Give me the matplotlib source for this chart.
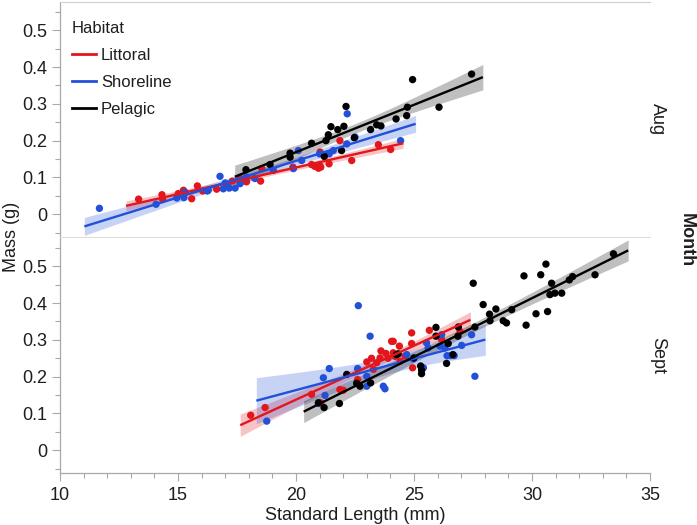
import numpy as np
import matplotlib
matplotlib.use("Agg")
import matplotlib.pyplot as plt
from matplotlib.ticker import MultipleLocator, FixedLocator
from matplotlib.lines import Line2D

plt.rcParams['font.family'] = ['Liberation Sans', 'DejaVu Sans']

habitats = ["Littoral", "Shoreline", "Pelagic"]
months = ["Aug", "Sept"]
habitat_colors = ["#e3161c", "#2250d9", "#000000"]

# ---- August ----
aug_littoral_len = [13.33, 14.32, 14.35, 15.01, 15.23, 15.58, 15.82, 16.05, 16.64, 17.30, 17.63,
                    17.90, 18.50, 18.55, 19.87, 20.66, 20.80, 20.95, 21.00, 21.05, 21.02, 21.40,
                    21.86, 22.36, 23.49, 24.01]
aug_littoral_mass = [0.041, 0.053, 0.040, 0.056, 0.065, 0.042, 0.077, 0.063, 0.068, 0.090, 0.098,
                     0.088, 0.090, 0.124, 0.128, 0.135, 0.130, 0.125, 0.133, 0.128, 0.169, 0.137,
                     0.200, 0.146, 0.189, 0.176]

aug_shoreline_len = [11.67, 14.07, 14.95, 15.25, 15.30, 16.24, 16.28, 16.78, 16.92, 17.00, 17.13,
                     17.17, 17.42, 17.63, 17.90, 18.26, 19.04, 19.89, 20.10, 20.24, 21.00, 21.41,
                     21.58, 22.15, 22.17, 22.50, 24.43]
aug_shoreline_mass = [0.016, 0.027, 0.044, 0.045, 0.060, 0.063, 0.065, 0.103, 0.069, 0.085, 0.074,
                      0.071, 0.071, 0.083, 0.101, 0.097, 0.119, 0.124, 0.173, 0.146, 0.164, 0.164,
                      0.173, 0.191, 0.273, 0.210, 0.200]

aug_pelagic_len = [17.88, 18.90, 19.75, 19.75, 20.66, 21.20, 21.27, 21.37, 21.48, 21.77, 21.93,
                   22.03, 22.12, 22.47, 23.16, 23.42, 23.60, 24.24, 24.69, 24.72, 24.94, 26.06,
                   27.44]
aug_pelagic_mass = [0.121, 0.135, 0.166, 0.155, 0.193, 0.157, 0.200, 0.216, 0.238, 0.230, 0.173,
                    0.239, 0.293, 0.208, 0.230, 0.243, 0.240, 0.259, 0.268, 0.291, 0.366, 0.291,
                    0.381]

# ---- September ----
sept_littoral_len = [18.08, 18.69, 20.66, 21.05, 21.86, 22.00, 22.61, 23.28, 23.42, 23.56, 23.81,
                     24.05, 24.12, 24.12, 24.38, 24.41, 24.62, 24.90, 24.90, 24.94, 25.65, 26.17,
                     26.95, 23.00, 23.20, 23.60, 23.90, 24.20]
sept_littoral_mass = [0.095, 0.116, 0.152, 0.129, 0.165, 0.163, 0.192, 0.220, 0.238, 0.251, 0.263,
                      0.296, 0.296, 0.265, 0.283, 0.242, 0.256, 0.319, 0.290, 0.224, 0.326, 0.301,
                      0.323, 0.240, 0.250, 0.270, 0.250, 0.255]

sept_shoreline_len = [18.76, 20.95, 21.16, 21.23, 21.41, 22.61, 22.64, 23.00, 23.00, 23.14, 23.70,
                      23.77, 24.69, 24.97, 25.40, 25.53, 25.60, 26.10, 26.17, 26.31, 26.40, 26.55,
                      26.70, 27.02, 27.44, 27.58]
sept_shoreline_mass = [0.079, 0.127, 0.197, 0.149, 0.222, 0.222, 0.393, 0.201, 0.174, 0.310, 0.174,
                       0.167, 0.260, 0.248, 0.224, 0.292, 0.278, 0.283, 0.314, 0.278, 0.257, 0.257,
                       0.257, 0.285, 0.314, 0.201]

sept_pelagic_len = [20.95, 21.19, 21.84, 22.15, 22.57, 22.71, 23.16, 24.26, 24.33, 25.00, 25.28,
                    25.32, 25.32, 25.93, 25.93, 26.38, 26.45, 26.65, 26.86, 26.88, 27.51, 27.58,
                    27.93, 28.20, 28.47, 28.22, 28.78, 28.92, 29.14, 29.66, 29.75, 30.17, 30.37,
                    30.59, 30.66, 30.76, 30.83, 30.97, 31.26, 31.58, 31.72, 32.67, 33.45]
sept_pelagic_mass = [0.129, 0.116, 0.127, 0.206, 0.182, 0.174, 0.183, 0.260, 0.262, 0.251, 0.229,
                     0.218, 0.208, 0.334, 0.310, 0.236, 0.290, 0.260, 0.310, 0.335, 0.454, 0.335,
                     0.396, 0.370, 0.384, 0.352, 0.352, 0.346, 0.382, 0.474, 0.340, 0.371, 0.477,
                     0.506, 0.377, 0.423, 0.454, 0.427, 0.427, 0.463, 0.472, 0.477, 0.534]

data = {
    "Aug": [(aug_littoral_len, aug_littoral_mass),
            (aug_shoreline_len, aug_shoreline_mass),
            (aug_pelagic_len, aug_pelagic_mass)],
    "Sept": [(sept_littoral_len, sept_littoral_mass),
             (sept_shoreline_len, sept_shoreline_mass),
             (sept_pelagic_len, sept_pelagic_mass)],
}

x_ticks = [10, 15, 20, 25, 30, 35]
y_ticks = [0, 0.1, 0.2, 0.3, 0.4, 0.5]

W, H = 697, 525
fig = plt.figure(figsize=(W / 100, H / 100), dpi=100)

L = 60 / W
R = 650 / W
ax_top = fig.add_axes([L, 1 - 237 / H, R - L, 235 / H])
ax_bot = fig.add_axes([L, 1 - 473 / H, R - L, 235 / H], sharex=ax_top)

spine_col = "#a8a8a8"
txt_col = "#1e1e1e"
FS = 13


def fit_band(ax, x, y, color):
    x = np.asarray(x, float)
    y = np.asarray(y, float)
    n = len(x)
    b, a = np.polyfit(x, y, 1)
    pad = 0.05 * (x.max() - x.min())
    xs = np.linspace(x.min() - pad, x.max() + pad, 120)
    yhat = a + b * xs
    resid = y - (a + b * x)
    s = np.sqrt(np.sum(resid ** 2) / (n - 2))
    sxx = np.sum((x - x.mean()) ** 2)
    t = 2.05
    se = s * np.sqrt(1.0 / n + (xs - x.mean()) ** 2 / sxx)
    ax.fill_between(xs, yhat - t * se, yhat + t * se, color=color, alpha=0.25, lw=0, zorder=1)
    return xs, yhat


for ax, month in zip([ax_top, ax_bot], months):
    fits = []
    for (xv, yv), col in zip(data[month], habitat_colors):
        fits.append(fit_band(ax, xv, yv, col))
    for (xv, yv), col in zip(data[month], habitat_colors):
        ax.scatter(xv, yv, s=28, color=col, edgecolors='none', zorder=3)
    for (xs, yhat), col in zip(fits, habitat_colors):
        ax.plot(xs, yhat, color=col, lw=1.7, zorder=4, solid_capstyle='butt')

    ax.set_xlim(10, 35)
    ax.set_ylim(-0.062, 0.577)
    ax.yaxis.set_major_locator(FixedLocator(y_ticks))
    ax.yaxis.set_minor_locator(FixedLocator([-0.05, 0.05, 0.15, 0.25, 0.35, 0.45, 0.55]))
    ax.set_yticklabels(["0" if v == 0 else f"{v:.1f}" for v in y_ticks])
    ax.tick_params(axis='y', which='major', length=6, width=0.8, color=spine_col,
                   labelsize=FS, labelcolor=txt_col, pad=3)
    ax.tick_params(axis='y', which='minor', length=3.5, width=0.8, color=spine_col)
    ax.spines["right"].set_visible(False)
    ax.spines["left"].set_color(spine_col)
    ax.spines["left"].set_linewidth(0.9)

# strip labels
fig.text(657 / W, 1 - 119.5 / H, months[0], rotation=270, ha='center', va='center',
         fontsize=FS, color=txt_col)
fig.text(658 / W, 1 - 355.5 / H, months[1], rotation=270, ha='center', va='center',
         fontsize=FS, color=txt_col)

# Top panel
ax_top.spines["top"].set_color("#d0d0d0")
ax_top.spines["top"].set_linewidth(0.8)
ax_top.spines["bottom"].set_color("#dddddd")
ax_top.spines["bottom"].set_linewidth(0.8)
ax_top.tick_params(axis='x', which='both', bottom=False, labelbottom=False)

# Bottom panel
ax_bot.spines["top"].set_visible(False)
ax_bot.spines["bottom"].set_color(spine_col)
ax_bot.spines["bottom"].set_linewidth(0.9)
ax_bot.xaxis.set_major_locator(FixedLocator(x_ticks))
ax_bot.xaxis.set_minor_locator(MultipleLocator(1))
ax_bot.tick_params(axis='x', which='major', length=6, width=0.8, color=spine_col,
                   labelsize=FS, labelcolor=txt_col, pad=4)
ax_bot.tick_params(axis='x', which='minor', length=3.5, width=0.8, color=spine_col)
ax_bot.set_xlabel("Standard Length (mm)", fontsize=FS, color=txt_col, labelpad=2)

# Shared labels
fig.text(12 / W, 1 - 237 / H, "Mass (g)", rotation=90, ha='center', va='center',
         fontsize=FS, color=txt_col)
fig.text(686 / W, 1 - 240 / H, "Month", rotation=270, ha='center', va='center',
         fontsize=FS, fontweight='bold', color=txt_col)

# Legend
handles = [Line2D([0], [0], color=c, lw=2) for c in habitat_colors]
leg = ax_top.legend(handles, habitats, title="Habitat", loc='upper left',
                    bbox_to_anchor=(0.0, 0.97), frameon=False, fontsize=12,
                    title_fontsize=12, handlelength=1.45, handletextpad=0.3,
                    labelspacing=0.72, alignment='left', borderaxespad=0.3)
for t in leg.get_texts():
    t.set_color(txt_col)
leg.get_title().set_color(txt_col)

fig.savefig("out.png", dpi=100)
